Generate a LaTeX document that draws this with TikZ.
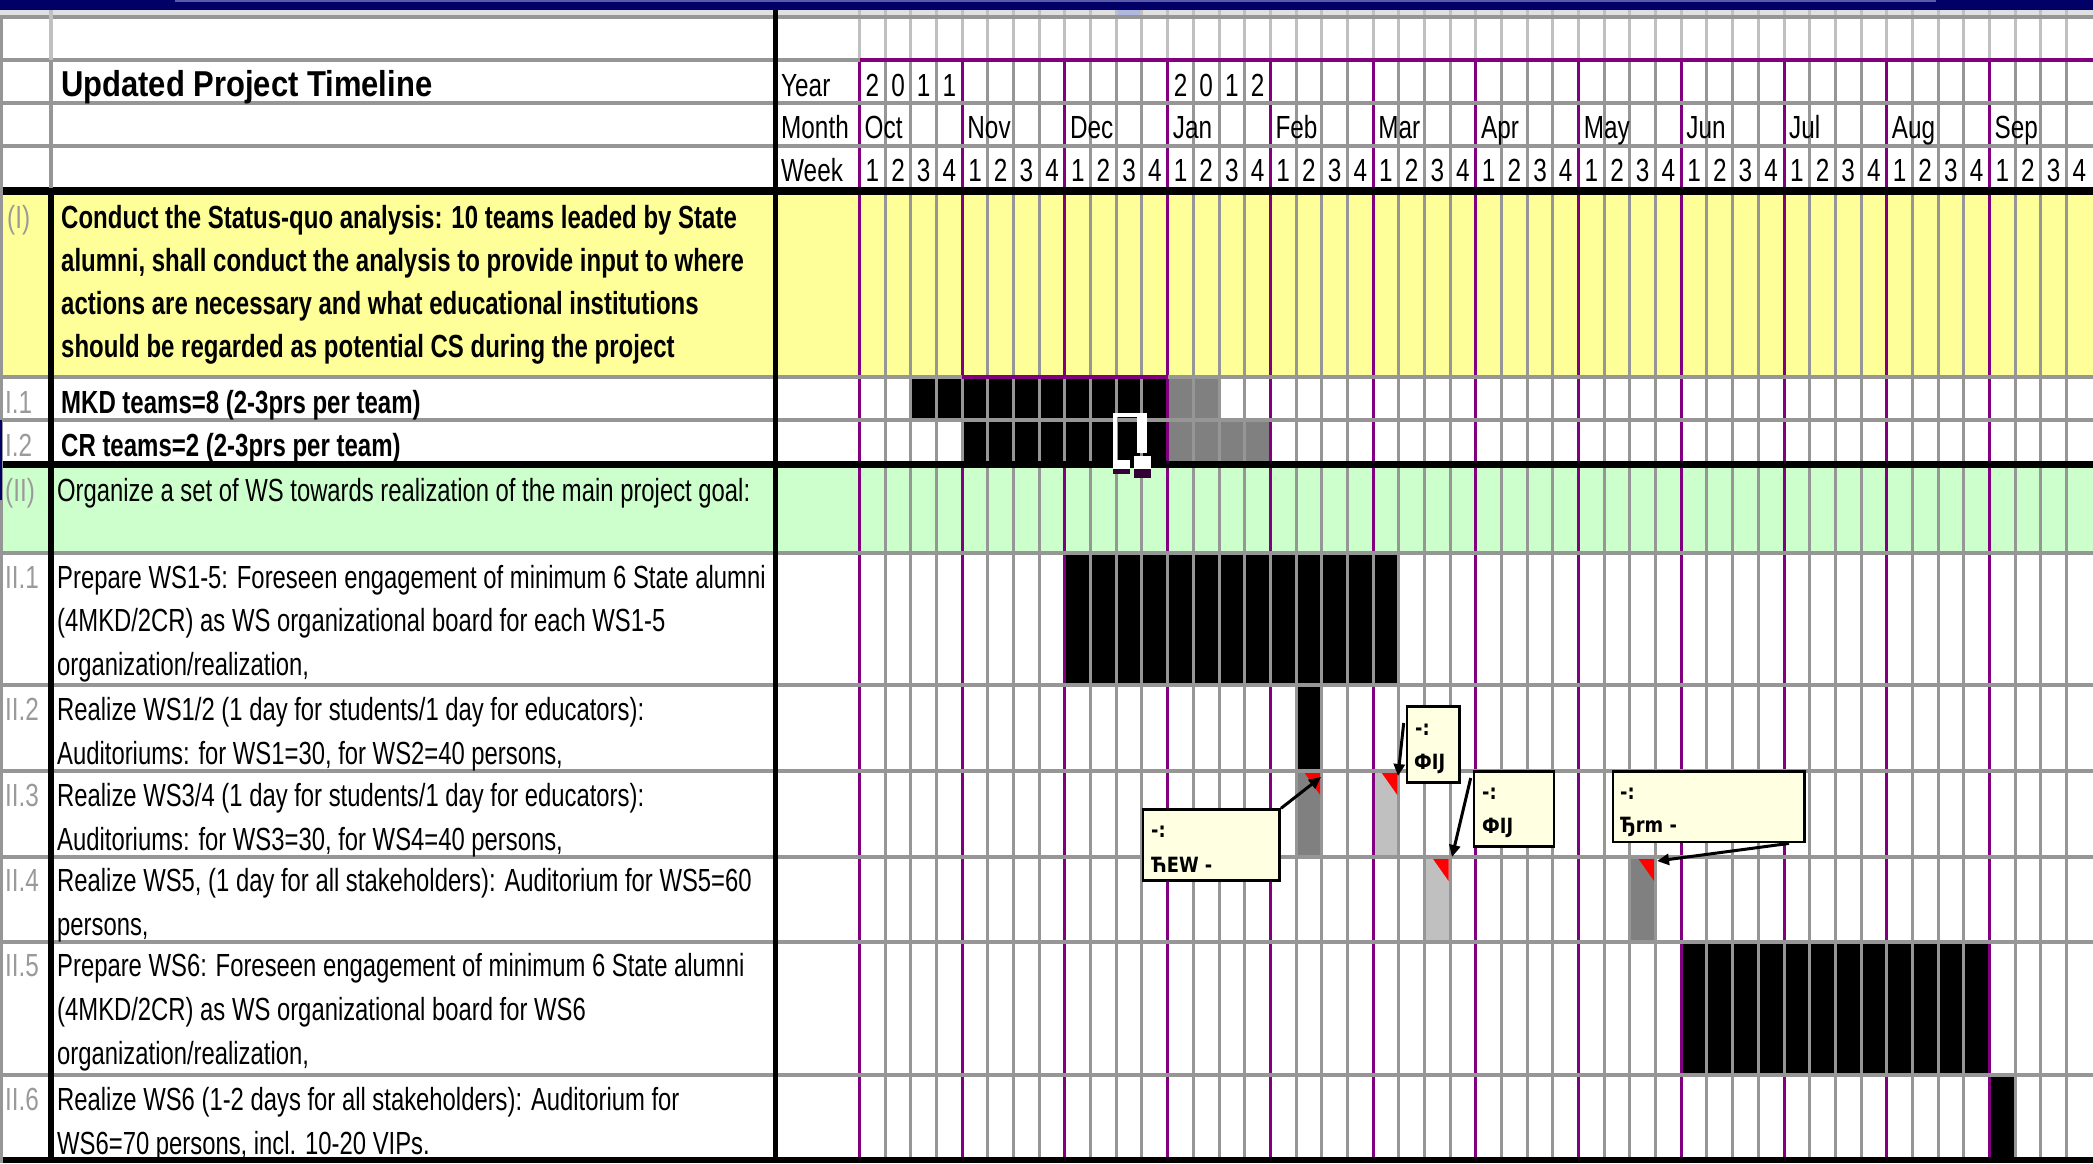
\documentclass[tikz,border=0pt]{standalone}
\usepackage{fontspec}
\setmainfont{Liberation Sans}
\newfontfamily\cellfont[FakeStretch=0.76]{Liberation Sans}
\newfontfamily\bodyfont[FakeStretch=0.745]{Liberation Sans}
\newfontfamily\secfont[FakeStretch=0.75]{Liberation Sans}
\newfontfamily\ttlfont[FakeStretch=0.86]{Liberation Sans}
\newfontfamily\cmtfont[FakeStretch=0.85]{DejaVu Sans}
\usetikzlibrary{arrows.meta}
\definecolor{gridgray}{HTML}{969696}
\definecolor{lightgrid}{HTML}{C0C0C0}
\definecolor{xlpurple}{HTML}{800080}
\definecolor{xlyellow}{HTML}{FFFF99}
\definecolor{xlgreen}{HTML}{CCFFCC}
\definecolor{xlnavy}{HTML}{000066}
\definecolor{navylight}{HTML}{5A5AA8}
\definecolor{bandgray}{HTML}{E0E0E0}
\definecolor{selblue}{HTML}{B0B8E0}
\definecolor{cmtfill}{HTML}{FFFFE1}
\definecolor{bargray}{HTML}{808080}
\definecolor{barlight}{HTML}{C0C0C0}
\definecolor{idxgray}{HTML}{9A9A9A}
\definecolor{cursorshadow}{HTML}{330033}
\definecolor{cmtred}{HTML}{FF0000}
\begin{document}
\begin{tikzpicture}[x=1pt,y=-1pt,
  txt/.style={anchor=base west, inner sep=0pt, font=\cellfont\fontsize{32}{32}\selectfont},
  bodytxt/.style={anchor=base west, inner sep=0pt, font=\bodyfont\fontsize{32}{32}\selectfont},
  sectxt/.style={anchor=base west, inner sep=0pt, font=\secfont\bfseries\fontsize{32}{32}\selectfont},
  idx/.style={txt, text=idxgray},
  hdrc/.style={anchor=base, inner sep=0pt, font=\cellfont\fontsize{32}{32}\selectfont},
  ttl/.style={anchor=base west, inner sep=0pt, font=\ttlfont\bfseries\fontsize{36}{36}\selectfont},
  cmtbox/.style={draw=black, line width=2.7pt, fill=cmtfill, inner sep=0pt, anchor=north west},
  cmttxt/.style={anchor=base west, inner sep=0pt, font=\cmtfont\bfseries\fontsize{21}{21}\selectfont},
  cmtarrow/.style={line width=3pt, -{Triangle[length=12pt,width=11pt]}},
  weekline/.style={draw=gridgray, line width=3pt},
  monthline/.style={draw=xlpurple, line width=3pt},
  hline/.style={draw=gridgray, line width=4pt},
  blackbar/.style={fill=black},
  darkbar/.style={fill=bargray},
  lightbar/.style={fill=barlight},
  redmark/.style={fill=cmtred}
]
\useasboundingbox (0,0) rectangle (2093,1163);
\fill[white] (0,0) rectangle (2093,1163);
% top strip
\fill[xlnavy] (0,0) rectangle (2093,10);
\fill[navylight] (175,0) rectangle (1936,2);
\fill[bandgray] (0,10) rectangle (2093,15);
\fill[selblue] (1118,10) rectangle (1143,15);
\fill[xlnavy] (1118,15) rectangle (1143,19);
% row backgrounds
\fill[xlyellow] (0,191) rectangle (2093,377);
\fill[xlgreen] (0,464.5) rectangle (2093,553);
% bars
\fill[blackbar] (910.9,377) rectangle (1167.7,420);
\fill[darkbar] (1167.7,377) rectangle (1219.0,420);
\fill[blackbar] (962.2,420) rectangle (1167.7,464.5);
\fill[darkbar] (1167.7,420) rectangle (1270.4,464.5);
\fill[blackbar] (1064.9,553) rectangle (1398.8,685);
\fill[blackbar] (1296.1,685) rectangle (1321.7,771);
\fill[darkbar] (1296.1,771) rectangle (1321.7,857);
\fill[lightbar] (1373.1,771) rectangle (1398.8,857);
\fill[lightbar] (1424.5,857) rectangle (1450.1,942);
\fill[darkbar] (1629.9,857) rectangle (1655.6,942);
\fill[blackbar] (1681.3,942) rectangle (1989.4,1075);
\fill[blackbar] (1989.4,1075) rectangle (2015.1,1160);
% vertical grid
\foreach \i in {0,...,47} {
  \draw[draw=lightgrid, line width=3pt] ({859.5+\i*25.68},10) -- ({859.5+\i*25.68},60);
  \draw[weekline] ({859.5+\i*25.68},60) -- ({859.5+\i*25.68},1163);
}
\foreach \i in {0,4,...,44} {
  \draw[monthline] ({859.5+\i*25.68},60) -- ({859.5+\i*25.68},1163);
}
% month lines inside black bars appear grey
\draw[weekline] (962.2,379) -- (962.2,464);
\draw[weekline] (1064.9,379) -- (1064.9,464);
\draw[weekline] (1167.7,555) -- (1167.7,683);
\draw[weekline] (1270.4,555) -- (1270.4,683);
\draw[weekline] (1373.1,555) -- (1373.1,683);
\draw[weekline] (1784.0,944) -- (1784.0,1073);
\draw[weekline] (1886.7,944) -- (1886.7,1073);
% horizontal lines
\draw[hline] (0,17) -- (2093,17);
\draw[hline] (0,60) -- (859.5,60);
\draw[draw=xlpurple, line width=4pt] (859.5,60) -- (2093,60);
\draw[hline] (0,103) -- (2093,103);
\draw[hline] (0,146) -- (2093,146);
\draw[draw=black, line width=8pt] (0,191) -- (2093,191);
\draw[hline] (0,377) -- (2093,377);
\draw[draw=xlpurple, line width=4pt] (962.2,377) -- (1167.7,377);
\draw[hline] (0,420) -- (2093,420);
\draw[draw=black, line width=7pt] (0,464.5) -- (2093,464.5);
\draw[hline] (0,553) -- (2093,553);
\draw[hline] (0,685) -- (2093,685);
\draw[hline] (0,771) -- (2093,771);
\draw[hline] (0,857) -- (2093,857);
\draw[hline] (0,942) -- (2093,942);
\draw[hline] (0,1075) -- (2093,1075);
\draw[draw=black, line width=6pt] (0,1160) -- (2093,1160);
% fixed verticals
\draw[draw=gridgray, line width=3pt] (1.5,17) -- (1.5,1163);
\draw[draw=lightgrid, line width=4pt] (51,10) -- (51,60);
\draw[draw=gridgray, line width=4pt] (51,60) -- (51,191);
\draw[draw=black, line width=6pt] (51,188) -- (51,1163);
\draw[draw=black, line width=5pt] (775,10) -- (775,1163);
\fill[xlnavy] (0,420) rectangle (2,500);
% header texts
\node[ttl] (title) at (61,96.7) {Updated Project Timeline};
\node[txt] (yearlbl) at (781,96.7) {Year};
\node[txt] (monthlbl) at (781,138.3) {Month};
\node[txt] (weeklbl) at (781,181.7) {Week};
\foreach \d [count=\k from 0] in {2,0,1,1} {
  \node[hdrc] (ya\k) at ({859.5+(\k+0.5)*25.68},96.7) {\d};
}
\foreach \d [count=\k from 12] in {2,0,1,2} {
  \node[hdrc] (yb\k) at ({859.5+(\k+0.5)*25.68},96.7) {\d};
}
\foreach \m [count=\k from 0] in {Oct,Nov,Dec,Jan,Feb,Mar,Apr,May,Jun,Jul,Aug,Sep} {
  \node[txt] (mo\k) at ({859.5+\k*102.72+5},138.3) {\m};
}
\foreach \i in {0,...,47} {
  \pgfmathtruncatemacro\wk{mod(\i,4)+1}
  \node[hdrc] (wk\i) at ({859.5+(\i+0.5)*25.68},181.7) {\wk};
}
% section I
\node[idx] (iI) at (7,228.3) {(I)};
\node[sectxt] (tI1) at (61,228.3) {Conduct the Status-quo analysis: 10 teams leaded by State};
\node[sectxt] (tI2) at (61,271.7) {alumni, shall conduct the analysis to provide input to where};
\node[sectxt] (tI3) at (61,314.5) {actions are necessary and what educational institutions};
\node[sectxt] (tI4) at (61,357.5) {should be regarded as potential CS during the project};
\node[idx] (iI1) at (5,413.3) {I.1};
\node[sectxt] (tI1a) at (61,413.3) {MKD teams=8 (2-3prs per team)};
\node[idx] (iI2) at (5,456.7) {I.2};
\node[sectxt] (tI2a) at (61,456.7) {CR teams=2 (2-3prs per team)};
% section II
\node[idx] (iII) at (5,501.7) {(II)};
\node[bodytxt] (tII) at (57,501.7) {Organize a set of WS towards realization of the main project goal:};
\node[idx] (iII1) at (5,588.3) {II.1};
\node[bodytxt] (tII1a) at (57,588.3) {Prepare WS1-5: Foreseen engagement of minimum 6 State alumni};
\node[bodytxt] (tII1b) at (57,631.5) {(4MKD/2CR) as WS organizational board for each WS1-5};
\node[bodytxt] (tII1c) at (57,675) {organization/realization,};
\node[idx] (iII2) at (5,720) {II.2};
\node[bodytxt] (tII2a) at (57,720) {Realize WS1/2 (1 day for students/1 day for educators):};
\node[bodytxt] (tII2b) at (57,764) {Auditoriums: for WS1=30, for WS2=40 persons,};
\node[idx] (iII3) at (5,806.5) {II.3};
\node[bodytxt] (tII3a) at (57,806.5) {Realize WS3/4 (1 day for students/1 day for educators):};
\node[bodytxt] (tII3b) at (57,850) {Auditoriums: for WS3=30, for WS4=40 persons,};
\node[idx] (iII4) at (5,891.7) {II.4};
\node[bodytxt] (tII4a) at (57,891.7) {Realize WS5, (1 day for all stakeholders): Auditorium for WS5=60};
\node[bodytxt] (tII4b) at (57,935) {persons,};
\node[idx] (iII5) at (5,976.7) {II.5};
\node[bodytxt] (tII5a) at (57,976.7) {Prepare WS6: Foreseen engagement of minimum 6 State alumni};
\node[bodytxt] (tII5b) at (57,1020) {(4MKD/2CR) as WS organizational board for WS6};
\node[bodytxt] (tII5c) at (57,1064) {organization/realization,};
\node[idx] (iII6) at (5,1110) {II.6};
\node[bodytxt] (tII6a) at (57,1110) {Realize WS6 (1-2 days for all stakeholders): Auditorium for};
\node[bodytxt] (tII6b) at (57,1154) {WS6=70 persons, incl. 10-20 VIPs.};
% cursor
\fill[white] (1112.6,413.3) rectangle (1147,417.3);
\fill[white] (1112.6,413.3) rectangle (1117,460);
\fill[white] (1137,413.3) rectangle (1147,453);
\fill[white] (1112.6,460) rectangle (1130.4,469);
\fill[white] (1134,456) rectangle (1150.5,469);
\fill[cursorshadow] (1112.6,469) rectangle (1130.4,474);
\fill[cursorshadow] (1134,469) rectangle (1150.5,477.7);
% red comment markers
\fill[redmark] (1304.7,773) -- (1320.2,773) -- (1320.2,795) -- cycle;
\fill[redmark] (1381.8,773) -- (1397.3,773) -- (1397.3,795) -- cycle;
\fill[redmark] (1433.1,859) -- (1448.6,859) -- (1448.6,881) -- cycle;
\fill[redmark] (1638.6,859) -- (1654.1,859) -- (1654.1,881) -- cycle;
% comment boxes
\node[cmtbox, minimum width=136.6pt, minimum height=71pt] (cA) at (1141.7,808.3) {};
\node[cmtbox, minimum width=52.6pt, minimum height=76pt] (cB) at (1405.7,705) {};
\node[cmtbox, minimum width=80pt, minimum height=75pt] (cC) at (1472.7,770) {};
\node[cmtbox, minimum width=191.6pt, minimum height=70.7pt] (cD) at (1611.7,770) {};
\node[cmttxt] (cAa) at (1151,837) {-:};
\node[cmttxt] (cAb) at (1151,872) {ЋЕW -};
\node[cmttxt] (cBa) at (1415,735) {-:};
\node[cmttxt] (cBb) at (1414,769) {ФIJ};
\node[cmttxt] (cCa) at (1482,799) {-:};
\node[cmttxt] (cCb) at (1482,833) {ФIJ};
\node[cmttxt] (cDa) at (1620,799) {-:};
\node[cmttxt] (cDb) at (1620,832) {Ђrm -};
% comment arrows
\coordinate (tA) at (1321,777);
\coordinate (tB) at (1398,776);
\coordinate (tC) at (1452,857);
\coordinate (tD) at (1657,861);
\draw[cmtarrow] (cA.north east) -- (tA);
\draw[cmtarrow] ([xshift=-2pt,yshift=-18pt]cB.north west) -- (tB);
\draw[cmtarrow] ([xshift=-2pt,yshift=-8pt]cC.north west) -- (tC);
\draw[cmtarrow] ([xshift=-17pt]cD.south east) -- (tD);
\end{tikzpicture}
\end{document}
